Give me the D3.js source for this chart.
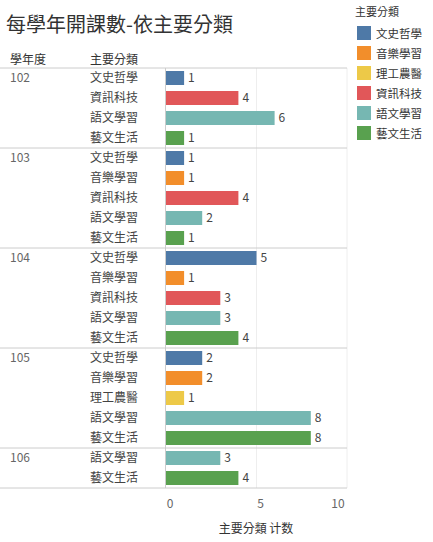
<!DOCTYPE html><html><head><meta charset="utf-8"><script src="https://cdn.jsdelivr.net/npm/d3@7"></script>
<style>body{margin:0;background:#fff}text{font-family:"Noto Sans CJK TC",sans-serif}</style></head><body><svg id="c" width="433" height="542"></svg>
<script>
const years=["102","102","102","102","103","103","103","103","103","104","104","104","104","104","105","105","105","105","105","106","106"];
const cats=["文史哲學","資訊科技","語文學習","藝文生活","文史哲學","音樂學習","資訊科技","語文學習","藝文生活","文史哲學","音樂學習","資訊科技","語文學習","藝文生活","文史哲學","音樂學習","理工農醫","語文學習","藝文生活","語文學習","藝文生活"];
const values=[1,4,6,1,1,1,4,2,1,5,1,3,3,4,2,2,1,8,8,3,4];
const legendCats=["文史哲學","音樂學習","理工農醫","資訊科技","語文學習","藝文生活"];
const colors=["#4e79a7","#f28e2b","#edc948","#e15759","#76b7b2","#59a14f"];
const ticks=[0,5,10];
const svg=d3.select("#c");
const color=d3.scaleOrdinal(legendCats,colors);
const x=d3.scaleLinear([0,10],[166,347]);
const y=d3.scaleBand(d3.range(values.length),[68,488]);
svg.append("text").attr("x",6).attr("y",32).attr("font-size",20).attr("fill","#333").text("每學年開課數-依主要分類");
svg.append("text").attr("x",10).attr("y",64).attr("font-size",12).attr("fill","#333").text("學年度");
svg.append("text").attr("x",90).attr("y",64).attr("font-size",12).attr("fill","#333").text("主要分類");
// grid
ticks.slice(1).forEach(t=>svg.append("line").attr("x1",x(t)).attr("x2",x(t)).attr("y1",68).attr("y2",488).attr("stroke","#eee"));
svg.append("line").attr("x1",0).attr("x2",347).attr("y1",68).attr("y2",68).attr("stroke","#ccc");
svg.append("line").attr("x1",0).attr("x2",347).attr("y1",488).attr("y2",488).attr("stroke","#ccc");
svg.append("line").attr("x1",165.5).attr("x2",165.5).attr("y1",68).attr("y2",488).attr("stroke","#ccc");
values.forEach((v,i)=>{
  const yy=y(i), bw=y.bandwidth();
  if(i===0||years[i]!==years[i-1]){
    if(i>0) svg.append("line").attr("x1",0).attr("x2",347).attr("y1",yy).attr("y2",yy).attr("stroke","#ccc");
    svg.append("text").attr("x",10).attr("y",yy+bw/2+4).attr("font-size",12).attr("fill","#666").text(years[i]);
  }
  svg.append("text").attr("x",90).attr("y",yy+bw/2+4).attr("font-size",12).attr("fill","#444").text(cats[i]);
  svg.append("rect").attr("x",x(0)).attr("y",yy+3).attr("width",x(v)-x(0)).attr("height",bw-6).attr("fill",color(cats[i]));
  svg.append("text").attr("x",x(v)+4).attr("y",yy+bw/2+4).attr("font-size",12).attr("fill","#444").text(v);
});
ticks.forEach(t=>svg.append("text").attr("x",t===10?x(t)-9:x(t)+4).attr("y",508).attr("text-anchor","middle").attr("font-size",12).attr("fill","#666").text(t));
svg.append("text").attr("x",256).attr("y",533).attr("text-anchor","middle").attr("font-size",12).attr("fill","#333").text("主要分類 计数");
svg.append("text").attr("x",355).attr("y",16).attr("font-size",11).attr("fill","#333").text("主要分類");
legendCats.forEach((c,i)=>{
  svg.append("rect").attr("x",357).attr("y",26+i*20).attr("width",14).attr("height",14).attr("fill",colors[i]);
  svg.append("text").attr("x",376).attr("y",38+i*20).attr("font-size",11.5).attr("fill","#333").text(c);
});
</script></body></html>
